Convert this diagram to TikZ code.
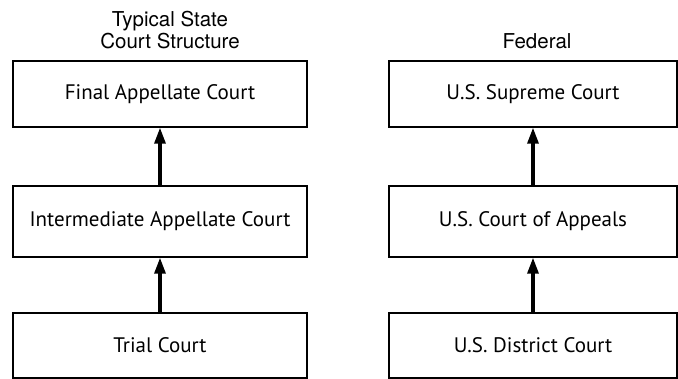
\documentclass[tikz,border=0pt]{standalone}
\usepackage{fontspec}
\usepackage{tikz}
\usetikzlibrary{calc,arrows.meta}
\newfontfamily\headfont{TeX Gyre Heros}
\newfontfamily\boxfont{PT Sans}
\begin{document}
\begin{tikzpicture}[x=1pt,y=-1pt,
                    ->,>={Triangle[length=16pt,width=11pt]},line width=3.2pt,
                    court/.style={rectangle,draw,line width=1.4pt,minimum width=294pt,
                                  minimum height=66pt,inner sep=0pt,font=\boxfont\fontsize{21}{24}\selectfont},
                    heading/.style={align=center,inner sep=0pt,font=\headfont\fontsize{20.5}{22}\selectfont}]
\useasboundingbox (0,0) rectangle (678,379);
\begin{scope}
\node[heading] (sh) at (170, 30)                      {Typical State\\Court Structure};
\node[court]   (sf) at (160, 94)                      {Final Appellate Court};
\node[court,minimum height=71pt] (si) at ($ (sf) + (0, 127.5) $) {Intermediate Appellate Court};
\node[court,minimum height=65pt] (st) at ($ (si) + (0, 124) $)   {Trial Court};
%
\path
  (st) edge (si)
  (si) edge (sf)
  ;
\end{scope}
%
\begin{scope}
\node[heading] (fh) at (537, 41)                      {Federal};
\node[court,minimum width=288pt] (fs) at (533, 94)    {U.S. Supreme Court};
\node[court,minimum width=288pt,minimum height=71pt] (fa) at ($ (fs) + (0, 127.5) $) {U.S. Court of Appeals};
\node[court,minimum width=288pt,minimum height=65pt] (fd) at ($ (fa) + (0, 124) $)   {U.S. District Court};
%
\path
  (fd) edge (fa)
  (fa) edge (fs)
  ;
\end{scope}
\end{tikzpicture}
\end{document}
